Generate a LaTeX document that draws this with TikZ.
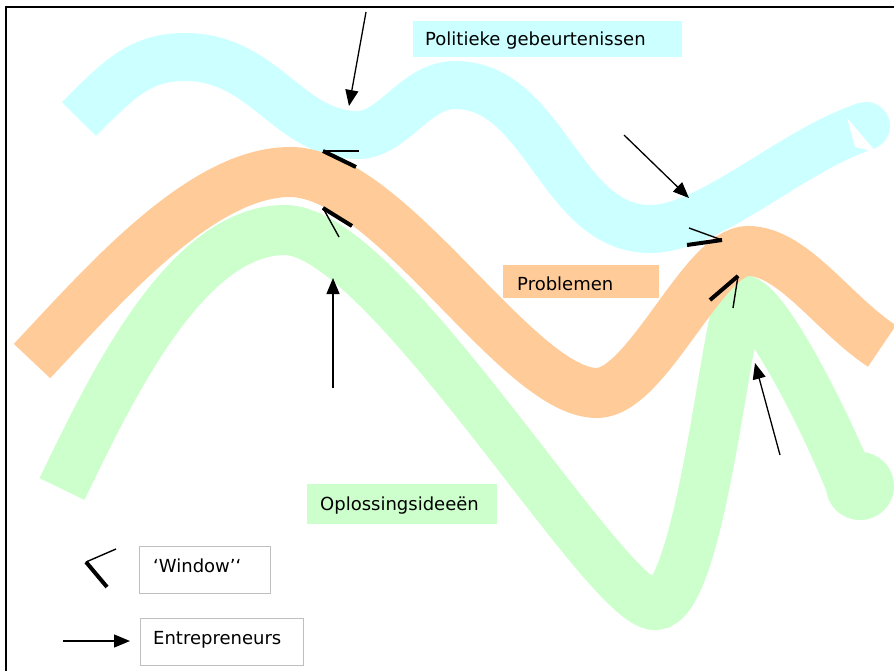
\documentclass[tikz,border=0pt]{standalone}
\usepackage{fontspec}
\setmainfont{DejaVu Sans}
\usetikzlibrary{arrows.meta}
\definecolor{polc}{HTML}{CCFFFF}
\definecolor{probc}{HTML}{FFCC99}
\definecolor{oplc}{HTML}{CCFFCC}
\begin{document}
\begin{tikzpicture}[x=1pt,y=-1pt,
  entr/.style={line width=1.3pt, -{Triangle[length=16pt,width=13pt]}},
  thinw/.style={line width=1.4pt},
  thickw/.style={line width=4pt},
  lbl/.style={anchor=base west, inner sep=0pt, font=\fontsize{18}{21}\selectfont},
  tagbox/.style={anchor=north west, inner sep=0pt, draw=none},
  keybox/.style={anchor=north west, inner sep=0pt, draw=black!25, line width=1pt},
]
\useasboundingbox (0,0) rectangle (894,670);
\fill[white] (0,0) rectangle (894,670);

% frame
\draw[line width=1.5pt] (6,700) -- (6,7) -- (900,7);

% solution stream
\draw[oplc, line width=50pt] (62,489) .. controls (110,390) and (185,230) .. (285,230)
  .. controls (385,230) and (605,605) .. (655,605)
  .. controls (702,605) and (728,300) .. (742,300)
  .. controls (765,300) and (830,430) .. (852,488);
\fill[oplc] (860,486) circle[radius=34pt];

% politics stream
\draw[polc, line width=48pt] (79,119) .. controls (119,79) and (140,57) .. (185,57)
  .. controls (265,57) and (288,135) .. (358,135)
  .. controls (393,135) and (415,85) .. (455,85)
  .. controls (545,85) and (560,229) .. (650,229)
  .. controls (710,229) and (792,150) .. (866,126);
\fill[polc] (866,126) circle[radius=24pt];
\fill[white] (847,118) -- (855,147) -- (876,152) -- cycle;

% problem stream
\draw[probc, line width=50pt] (32,361) .. controls (101,288) and (200,172) .. (290,172)
  .. controls (390,172) and (517,393) .. (597,393)
  .. controls (647,393) and (703,251) .. (748,251)
  .. controls (793,251) and (833,314) .. (882,346);

% stream labels
\node[tagbox, fill=polc, minimum width=269pt, minimum height=36pt] (polbox) at (413,21) {};
\node[lbl] (poltxt) at (425,45) {Politieke gebeurtenissen};
\node[tagbox, fill=probc, minimum width=156pt, minimum height=33pt] (probbox) at (503,265) {};
\node[lbl] (probtxt) at (517,290) {Problemen};
\node[tagbox, fill=oplc, minimum width=190pt, minimum height=40pt] (oplbox) at (307,484) {};
\node[lbl] (opltxt) at (320,510) {Oplossingsideeën};

% windows
\draw[thinw] (359,151) -- (323,151);
\draw[thickw] (323,151) -- (356,167);
\draw[thickw] (323,208) -- (352,226);
\draw[thinw] (323,208) -- (339,237);
\draw[thinw] (689,228) -- (722,240);
\draw[thickw] (722,240) -- (687,245);
\draw[thickw] (738,276) -- (710,300);
\draw[thinw] (738,276) -- (733,308);

% entrepreneurs
\coordinate (e1s) at (366,12);  \coordinate (e1t) at (349,106);
\coordinate (e2s) at (624,135); \coordinate (e2t) at (689,198);
\coordinate (e3s) at (333,388); \coordinate (e3t) at (333,278);
\coordinate (e4s) at (780,455); \coordinate (e4t) at (755,363);
\draw[entr] (e1s) -- (e1t);
\draw[entr] (e2s) -- (e2t);
\draw[entr] (e3s) -- (e3t);
\draw[entr] (e4s) -- (e4t);

% key
\draw[thinw] (116,549) -- (86,562);
\draw[thickw] (86,562) -- (107,587);
\node[keybox, minimum width=131pt, minimum height=47pt] (winbox) at (139,546) {};
\node[lbl] (wintxt) at (153,572) {‘Window’‘};
\coordinate (ks) at (63,641); \coordinate (kt) at (130,641);
\draw[entr] (ks) -- (kt);
\node[keybox, minimum width=163pt, minimum height=47pt] (entbox) at (140,618) {};
\node[lbl] (enttxt) at (153,644) {Entrepreneurs};
\end{tikzpicture}
\end{document}
